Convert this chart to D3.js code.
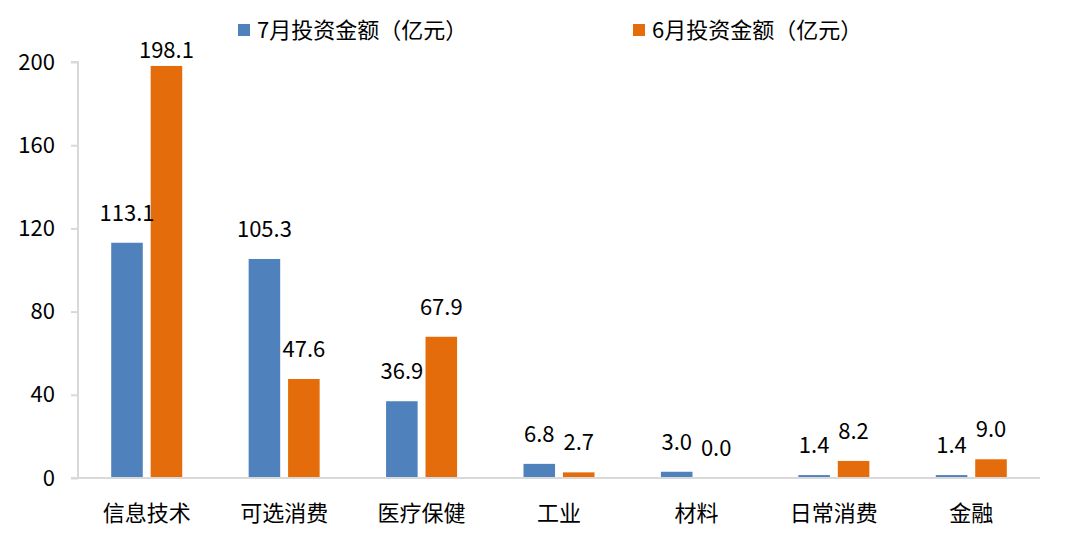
<!DOCTYPE html>
<html><head><meta charset="utf-8">
<script src="https://cdn.jsdelivr.net/npm/d3@7"></script>
<style>
html,body{margin:0;padding:0;background:#fff;}
text{font-family:"Noto Sans CJK SC","Noto Sans",sans-serif;fill:#000;}
</style></head>
<body><svg id="c" width="1080" height="557"></svg>
<script>
const categories = ["信息技术","可选消费","医疗保健","工业","材料","日常消费","金融"];
const seriesNames = ["7月投资金额（亿元）","6月投资金额（亿元）"];
const july = [113.1,105.3,36.9,6.8,3.0,1.4,1.4];
const june = [198.1,47.6,67.9,2.7,0.0,8.2,9.0];
const yTicks = [0,40,80,120,160,200];
const colors = ["#4F81BD","#E46C0A"];

const svg = d3.select("#c");
const pL = 78, pR = 1040, pT = 62, pB = 478;
const x = d3.scaleBand().domain(categories).range([pL,pR]).padding(0);
const x1 = d3.scaleBand().domain([0,1]).range([-35.5,35.5]).paddingInner(0.2).paddingOuter(0);
const y = d3.scaleLinear().domain([0,200]).range([pB,pT]);
const seriesVals = [july, june];
const FF = '"Noto Sans CJK SC","Noto Sans",sans-serif';

// y axis
const yAxis = svg.append("g").attr("transform",`translate(${pL},0)`)
  .call(d3.axisLeft(y).tickValues(yTicks).tickSize(7).tickPadding(16).tickFormat(d3.format("d")));
yAxis.select(".domain").attr("stroke","#D9D9D9").attr("stroke-width",2).attr("d",`M-7,${pT}H0V${pB}`);
yAxis.selectAll(".tick line").attr("stroke","#D9D9D9").attr("stroke-width",2);
yAxis.selectAll(".tick text").attr("font-size",22).attr("fill","#000").attr("font-family",FF);

// bars
seriesVals.forEach((vals,si)=>{
  svg.append("g").selectAll("rect").data(vals).join("rect")
    .attr("x",(d,i)=>x(categories[i])+x.bandwidth()/2+x1(si))
    .attr("width",x1.bandwidth())
    .attr("y",d=>y(d))
    .attr("height",d=>pB-y(d))
    .attr("fill",colors[si]);
});

// x axis baseline
const xAxis = svg.append("g").attr("transform",`translate(0,${pB})`)
  .call(d3.axisBottom(x).tickSize(0).tickPadding(27));
xAxis.select(".domain").attr("stroke","#D9D9D9").attr("stroke-width",2).attr("d",`M${pL-7},0H${pR}`);
xAxis.selectAll(".tick text").attr("font-size",22).attr("fill","#000").attr("font-family",FF);

// data labels
seriesVals.forEach((vals,si)=>{
  svg.append("g").selectAll("text").data(vals).join("text")
    .attr("x",(d,i)=>x(categories[i])+x.bandwidth()/2+x1(si)+x1.bandwidth()/2)
    .attr("y",d=>Math.max(y(d)-22,58))
    .attr("text-anchor","middle")
    .attr("font-size",22)
    .text(d=>d.toFixed(1));
});

// legend
const legX = [238,633];
seriesNames.forEach((n,i)=>{
  const g = svg.append("g").attr("transform",`translate(${legX[i]},0)`);
  g.append("rect").attr("x",0).attr("y",24).attr("width",12).attr("height",12).attr("fill",colors[i]);
  g.append("text").attr("x",19).attr("y",38).attr("font-size",22).text(n);
});
</script></body></html>
